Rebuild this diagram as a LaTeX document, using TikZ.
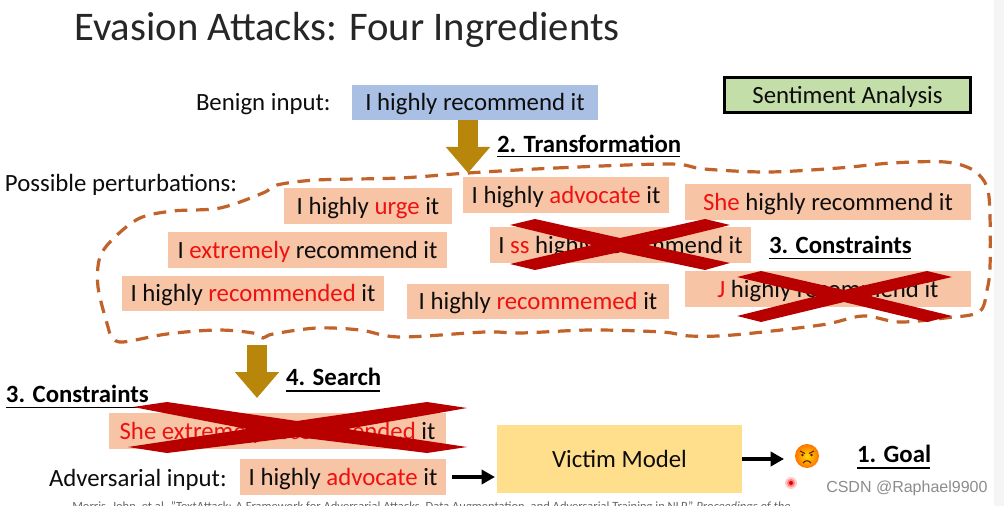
\documentclass[tikz,border=0pt]{standalone}
\usepackage{fontspec}
\setmainfont{Carlito}
\usetikzlibrary{arrows.meta,calc}
\definecolor{peach}{HTML}{F7C4A6}
\definecolor{bluebox}{HTML}{A9BFE4}
\definecolor{greenbox}{HTML}{C3DEA8}
\definecolor{goldarrow}{HTML}{B8860B}
\definecolor{dashorange}{HTML}{C0622A}
\definecolor{crossred}{HTML}{B90000}
\definecolor{modelyellow}{HTML}{FFDE8C}
\definecolor{redtxt}{HTML}{F01010}
\newcommand{\rd}[1]{\textcolor{redtxt}{#1}}
\newcommand{\boxat}[7][]{\node[txtbox,fill=#7,minimum width={(#4-#2)*0.75pt},minimum height={(#5-#3)*0.75pt},#1] (#6) at ({(#2+#4)/2},{(#3+#5)/2})}
\tikzset{
  txt/.style={inner sep=0pt,outer sep=0pt,text height=15pt,text depth=2.5pt,text=black!95,font=\fontsize{18.6pt}{22pt}\selectfont},
  txtbox/.style={txt,draw=none},
  lbl/.style={txt,font=\fontsize{18.6pt}{22pt}\selectfont\bfseries,text=black},
  rule/.style={line width=1.2pt,black},
  goldflow/.style={goldarrow,line width=15pt,-{Triangle[length=19.5pt,width=32pt]}},
  smallflow/.style={black,line width=2.6pt,-{Triangle[length=10pt,width=10.5pt]}},
  crossout/.style={fill=crossred,draw=none},
}
\begin{document}
\begin{tikzpicture}[x=0.75pt,y=-0.75pt]
\useasboundingbox (0,0) rectangle (1004,506);
\clip (0,0) rectangle (1004,506);
\fill[white] (0,0) rectangle (1004,506);
\fill[black!4] (994,0) rectangle (1004,506);
% title
\node[inner sep=0pt,anchor=west,text=black!85,font=\fontsize{30.5pt}{36pt}\selectfont] (title) at (74,30) {Evasion Attacks: Four Ingredients};
% text labels
\node[txt,anchor=west] (benignlbl) at (196,102) {Benign input:};
\node[txt,anchor=west] (posslbl) at (5,183) {Possible perturbations:};
\node[txt,anchor=west] (advlbl) at (49,478) {Adversarial input:};
% boxes
\boxat{352}{85}{598}{120}{benign}{bluebox} {I highly recommend it};
\node[txt,fill=greenbox,draw=black,line width=1.6pt,minimum width={246*0.75pt},minimum height={35*0.75pt}] (task) at (847.5,95) {Sentiment Analysis};
\boxat{284}{188}{452}{224}{urge}{peach} {I highly \rd{urge} it};
\boxat{168}{232}{447}{268}{extremely}{peach} {I \rd{extremely} recommend it};
\boxat{122}{276}{384}{311}{recommended}{peach} {I highly \rd{recommended} it};
\boxat{407}{284}{669}{319}{recommemed}{peach} {I highly \rd{recommemed} it};
\boxat{463}{177}{669}{213}{advocate}{peach} {I highly \rd{advocate} it};
\boxat{685}{184}{971}{220}{she}{peach} {\rd{She} highly recommend it};
\boxat{490}{227}{751}{263}{ss}{peach} {I \rd{ss} highly recommend it};
\boxat{685}{271}{971}{307}{jay}{peach} {\rd{J} highly recommend it};
\boxat{109}{413}{446}{449}{sheext}{peach} {\rd{She extremely recommended} it};
\boxat{240}{459}{446}{495}{adv}{peach} {I highly \rd{advocate} it};
\boxat{497}{425}{742}{493}{model}{modelyellow} {Victim Model};
% dashed region
\draw[dashorange,line width=2.4pt,dash pattern=on 9.5pt off 6.5pt,smooth] plot[smooth cycle,tension=0.55] coordinates {
 (468,173) (556,168) (669,164) (704,169) (768,172) (839,168) (892,163) (945,162) (973,170) (987,187) (990,217) (990,267) (987,290) (979,312) (945,318) (899,322) (863,316) (821,325) (733,335) (690,336) (662,332) (591,330) (521,333) (485,332) (400,337) (360,330) (317,328) (273,334) (263,338) (253,333) (217,330) (167,334) (123,342) (112,337) (108,327) (98,287) (100,257) (115,237) (140,218) (173,211) (220,208) (263,193) (277,185) (317,180) (400,178)};
% crosses
\fill[crossout] (510,225)--(535,219)--(620,238)--(705,219)--(730,225)--(648,245)--(730,263)--(705,270)--(620,252)--(535,270)--(510,264)--(592,245)--cycle;
\fill[crossout] (737,277)--(761,271)--(844,290)--(927,271)--(952,277)--(870,296)--(952,316)--(927,322)--(844,302)--(761,322)--(737,316)--(817,296)--cycle;
% bold labels
\node[lbl,anchor=west] (transform) at (497,144) {2. Transformation};
\draw[rule] (497,156.5) -- (680,156.5);
\node[lbl,anchor=west] (constr) at (769,245) {3. Constraints};
\draw[rule] (769,258.5) -- (911,258.5);
\node[lbl,anchor=west] (search) at (286,377) {4. Search};
\draw[rule] (286,391) -- (380,391);
\node[lbl,anchor=west] (constrb) at (6,394) {3. Constraints};
\draw[rule] (6,407.5) -- (148,407.5);
\node[lbl,anchor=west] (goal) at (857,454) {1. Goal};
\draw[rule] (857,468) -- (930,468);
\fill[crossout] (133,407)--(167,402)--(297,421)--(427,402)--(467,408)--(347,429)--(467,447)--(427,453)--(297,437)--(167,453)--(128,447)--(247,429)--cycle;
% gold arrows
\coordinate (tipa) at (468,173);
\coordinate (starta) at (468,120);
\draw[goldflow] (benign.south -| starta) -- (tipa);
\coordinate (startb) at (257,345);
\coordinate (tipb) at (257,398);
\draw[goldflow] (startb) -- (tipb);
% emoji
\node[circle,inner sep=0pt,minimum size={24*0.75pt},fill=none,draw=none] (emoji) at (807,456) {};
\shade[inner color=yellow!70!orange,outer color=orange!90!red] (emoji.center) circle (12);
\draw[black!70!orange,line width=0.8pt] (800,451)--(805,453.5) (814,451)--(809,453.5);
\fill[black!70!orange] (802.5,455) circle (1.4) (811.5,455) circle (1.4);
\draw[black!70!orange,line width=0.8pt] (803,463) .. controls (805,460) and (809,460) .. (811,463);
% small arrows
\draw[smallflow,shorten <=4.5pt,shorten >=1.5pt] (adv.east) -- (adv.east -| model.west);
\draw[smallflow,shorten >=8pt] (model.east) -- (model.east -| emoji.west);
% laser pointer
\fill[red!20] (791,483) circle (6);
\fill[red!50] (791,483) circle (4);
\fill[red!85!black] (791,483) circle (2);
% footer
\node[inner sep=0pt,anchor=west,text=black!60,font=\fontsize{9.4pt}{11pt}\selectfont] (footer) at (72,507) {Morris, John, et al. "TextAttack: A Framework for Adversarial Attacks, Data Augmentation, and Adversarial Training in NLP." \textit{Proceedings of the}};
% watermark
\node[inner sep=0pt,anchor=west,text=black!45,font=\fontsize{12pt}{14pt}\selectfont\fontspec{Liberation Sans}] (mark) at (826,488) {CSDN @Raphael9900};
\end{tikzpicture}
\end{document}
